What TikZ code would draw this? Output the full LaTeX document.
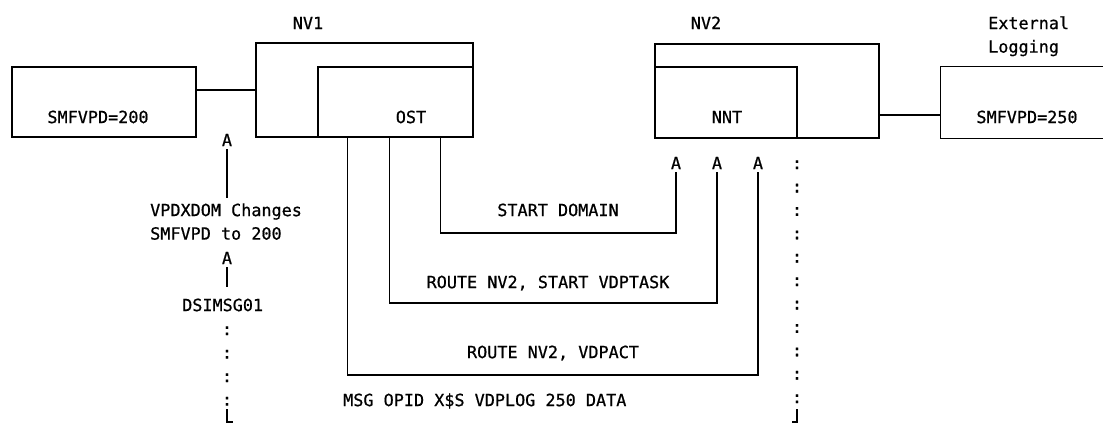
\documentclass[tikz,border=0pt]{standalone}
\usepackage{fontspec}
\newfontfamily\dmono[FakeBold=0.7]{DejaVu Sans Mono}
\begin{document}
\begin{tikzpicture}[x=1pt,y=-1pt,
  box/.style={draw,line width=1.3pt,inner sep=0pt},
  ln/.style={line width=1.3pt},
  txt/.style={font=\dmono\fontsize{16.8}{23.4}\selectfont,inner sep=0pt,text height=12.2pt,text depth=0pt}]
\useasboundingbox (0,0) rectangle (1103,425);
% boxes
\node[box,minimum width=184pt,minimum height=70pt] (lbox) at (104,102) {};
\node[box,minimum width=217pt,minimum height=94pt] (nv1) at (364.5,90) {};
\node[box,minimum width=155pt,minimum height=70pt] (ost) at (395.5,102) {};
\node[box,minimum width=224pt,minimum height=94pt] (nv2) at (767,91) {};
\node[box,minimum width=142pt,minimum height=71pt] (nnt) at (726,102.5) {};
\node[inner sep=0pt,minimum width=162pt,minimum height=71pt] (rbox) at (1022,102.5) {};
\draw[ln] (rbox.north east) -- (rbox.north west) -- (rbox.south west) -- (rbox.south east);
% connectors between boxes
\draw[ln] (nv1.west) -- (nv1.west -| lbox.east);
\draw[ln] ([yshift=-24pt]nv2.east) -- ([yshift=-24pt]nv2.east -| rbox.west);
% labels
\node[txt] (lnv1) at (308,23) {NV1};
\node[txt] (lnv2) at (706,23) {NV2};
\node[txt,anchor=west] (lext) at (988,23) {External};
\node[txt,anchor=west] (llog) at (988,46.5) {Logging};
\node[txt] (ls200) at (98,117) {SMFVPD=200};
\node[txt] (lost) at (411,117) {OST};
\node[txt] (lnnt) at (727,117) {NNT};
\node[txt] (ls250) at (1027,117) {SMFVPD=250};
% left column
\node[txt] (aL1) at (227,140) {A};
\node[txt,anchor=west] (t1) at (150,210) {VPDXDOM Changes};
\node[txt,anchor=west] (t2) at (150,233.5) {SMFVPD to 200};
\node[txt] (aL2) at (227,258) {A};
\node[txt,anchor=west] (t3) at (182,305) {DSIMSG01};
\draw[ln,shorten <=3pt,shorten >=6pt] (aL1.south) -- (aL1.south |- t1.north);
\draw[ln,shorten <=3pt,shorten >=12pt] (aL2.south) -- (aL2.south |- t3.north);
\foreach \k/\yy in {1/329,2/352.5,3/376,4/399.5}{
  \node[txt] (cl\k) at (227,\yy) {:};
}
\coordinate (cornL) at (227,422);
\draw[ln] ([yshift=13pt]cornL) -- (cornL) -- ([xshift=6pt]cornL);
% right column
\node[txt] (a1) at (676,163) {A};
\node[txt] (a2) at (717,163) {A};
\node[txt] (a3) at (758,163) {A};
\foreach \k in {0,...,10}{
  \node[txt] (cr\k) at (797,{163+23.4*\k}) {:};
}
\coordinate (cornR) at (797,422);
\draw[ln] ([yshift=13pt]cornR) -- (cornR) -- ([xshift=-5pt]cornR);
% message paths
\draw[ln,shorten >=3pt] (ost.south west) ++(123,0) |- (a1 |- 0,233) -- (a1.south);
\draw[ln,shorten >=3pt] (ost.south west) ++(72,0) |- (a2 |- 0,303) -- (a2.south);
\draw[ln,shorten >=3pt] (ost.south west) ++(30,0) |- (a3 |- 0,375) -- (a3.south);
\node[txt] (m1) at (558,210) {START DOMAIN};
\node[txt] (m2) at (548,282) {ROUTE NV2, START VDPTASK};
\node[txt] (m3) at (553,352) {ROUTE NV2, VDPACT};
\node[txt,anchor=west] (m4) at (343,400) {MSG OPID X\$S VDPLOG 250 DATA};
\end{tikzpicture}
\end{document}
